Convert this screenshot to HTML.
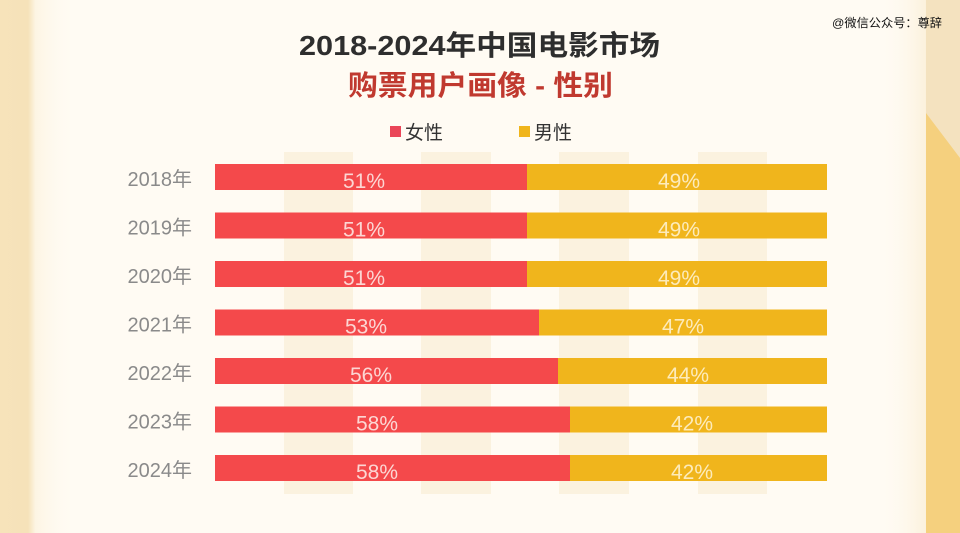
<!DOCTYPE html>
<html><head><meta charset="utf-8">
<style>
html,body{margin:0;padding:0;width:960px;height:533px;overflow:hidden;background:#fffbf3;}
svg{display:block;}
text{font-family:"Liberation Sans","Noto Sans CJK SC",sans-serif;}
</style></head>
<body>
<svg width="960" height="533" viewBox="0 0 960 533" xmlns="http://www.w3.org/2000/svg">
<defs>
<linearGradient id="lg" x1="0" x2="1" y1="0" y2="0">
<stop offset="0" stop-color="#f7e3ba"/>
<stop offset="0.78" stop-color="#f6e2b9"/>
<stop offset="1" stop-color="#fdf6e6"/>
</linearGradient>
<linearGradient id="lg2" x1="0" x2="1" y1="0" y2="0">
<stop offset="0" stop-color="#fdf5e4"/>
<stop offset="1" stop-color="#fffbf3" stop-opacity="0"/>
</linearGradient>
<linearGradient id="rg" x1="0" x2="1" y1="0" y2="0">
<stop offset="0" stop-color="#fffbf3" stop-opacity="0"/>
<stop offset="1" stop-color="#fbf0da"/>
</linearGradient>
</defs>
<rect width="960" height="533" fill="#fffbf3"/>
<rect x="0" y="0" width="36" height="533" fill="url(#lg)"/>
<rect x="36" y="0" width="40" height="533" fill="url(#lg2)"/>
<rect x="880" y="0" width="48" height="533" fill="url(#rg)"/>
<rect x="926" y="0" width="34" height="533" fill="#f4e2bf"/>
<polygon points="926,113 960,158 960,533 926,533" fill="#f5d07e"/>
<g fill="#fbf2df">
<rect x="284" y="152" width="69" height="342"/>
<rect x="421" y="152" width="70" height="342"/>
<rect x="559" y="152" width="70" height="342"/>
<rect x="698" y="152" width="69" height="342"/>
</g>
<text x="832" y="27" font-size="12" fill="#111" textLength="110" lengthAdjust="spacingAndGlyphs">@微信公众号：尊辞</text>
<text x="299" y="55" font-size="28" font-weight="bold" fill="#2e2e2e" textLength="361" lengthAdjust="spacingAndGlyphs">2018-2024年中国电影市场</text>
<text x="348" y="95" font-size="28" font-weight="bold" fill="#c0392f" textLength="265" lengthAdjust="spacingAndGlyphs">购票用户画像 - 性别</text>
<rect x="390" y="126" width="11" height="11" fill="#ea4658"/>
<text x="405" y="139" font-size="19" fill="#333">女性</text>
<rect x="519" y="126" width="11" height="11" fill="#f0b51c"/>
<text x="534" y="139" font-size="19" fill="#333">男性</text>
<g font-size="20" fill="#8a8a8a" text-anchor="end">
<text x="192" y="186">2018年</text>
<text x="192" y="234.5">2019年</text>
<text x="192" y="283">2020年</text>
<text x="192" y="331.5">2021年</text>
<text x="192" y="380">2022年</text>
<text x="192" y="428.5">2023年</text>
<text x="192" y="477">2024年</text>
</g>
<g>
<rect x="215" y="164" width="612" height="26" fill="#f0b51c"/>
<rect x="215" y="164" width="312" height="26" fill="#f4494b"/>
<rect x="215" y="212.5" width="612" height="26" fill="#f0b51c"/>
<rect x="215" y="212.5" width="312" height="26" fill="#f4494b"/>
<rect x="215" y="261" width="612" height="26" fill="#f0b51c"/>
<rect x="215" y="261" width="312" height="26" fill="#f4494b"/>
<rect x="215" y="309.5" width="612" height="26" fill="#f0b51c"/>
<rect x="215" y="309.5" width="324" height="26" fill="#f4494b"/>
<rect x="215" y="358" width="612" height="26" fill="#f0b51c"/>
<rect x="215" y="358" width="343" height="26" fill="#f4494b"/>
<rect x="215" y="406.5" width="612" height="26" fill="#f0b51c"/>
<rect x="215" y="406.5" width="355" height="26" fill="#f4494b"/>
<rect x="215" y="455" width="612" height="26" fill="#f0b51c"/>
<rect x="215" y="455" width="355" height="26" fill="#f4494b"/>
</g>
<g font-size="21" text-anchor="middle">
<g fill="#fcd6d3">
<text x="364" y="188">51%</text>
<text x="364" y="236.5">51%</text>
<text x="364" y="285">51%</text>
<text x="366" y="333.5">53%</text>
<text x="371" y="382">56%</text>
<text x="377" y="430.5">58%</text>
<text x="377" y="479">58%</text>
</g>
<g fill="#fdebbb">
<text x="679" y="188">49%</text>
<text x="679" y="236.5">49%</text>
<text x="679" y="285">49%</text>
<text x="683" y="333.5">47%</text>
<text x="688" y="382">44%</text>
<text x="692" y="430.5">42%</text>
<text x="692" y="479">42%</text>
</g>
</g>
</svg>
</body></html>
